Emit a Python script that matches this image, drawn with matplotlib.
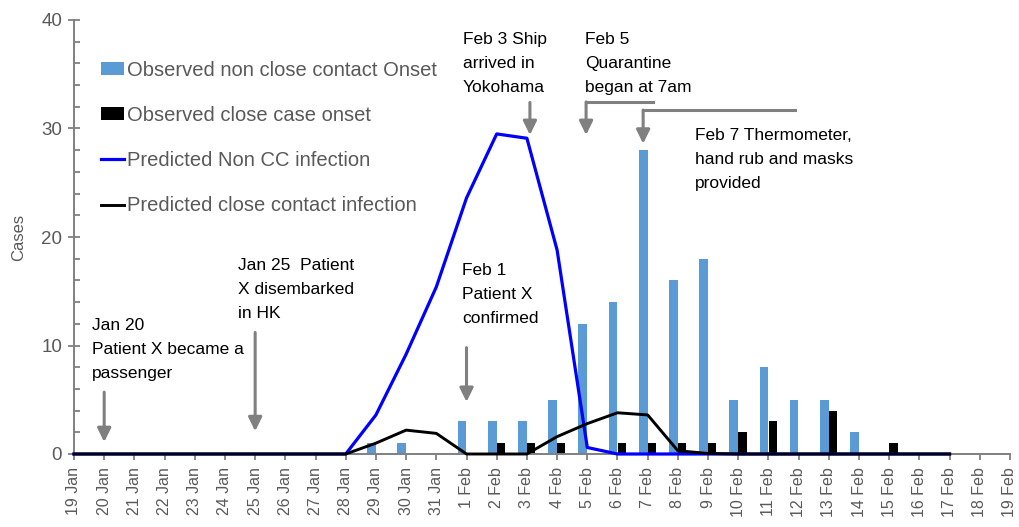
import matplotlib
matplotlib.use('Agg')
import matplotlib.pyplot as plt
from matplotlib.ticker import MultipleLocator

plt.rcParams['font.family'] = ['Liberation Sans', 'DejaVu Sans']

dates = ['19 Jan', '20 Jan', '21 Jan', '22 Jan', '23 Jan', '24 Jan', '25 Jan',
         '26 Jan', '27 Jan', '28 Jan', '29 Jan', '30 Jan', '31 Jan',
         '1 Feb', '2 Feb', '3 Feb', '4 Feb', '5 Feb', '6 Feb', '7 Feb', '8 Feb',
         '9 Feb', '10 Feb', '11 Feb', '12 Feb', '13 Feb', '14 Feb', '15 Feb',
         '16 Feb', '17 Feb', '18 Feb', '19 Feb']

# observed onsets (one value per date)
obs_non_cc = [0, 0, 0, 0, 0, 0, 0, 0, 0, 0, 1, 1, 0, 3, 3, 3, 5, 12, 14, 28,
              16, 18, 5, 8, 5, 5, 2, 0, 0, 0, 0, 0]
obs_cc = [0, 0, 0, 0, 0, 0, 0, 0, 0, 0, 0, 0, 0, 0, 1, 1, 1, 0, 1, 1,
          1, 1, 2, 3, 0, 4, 0, 1, 0, 0, 0, 0]

# predicted infections, 19 Jan - 17 Feb
pred_non_cc = [0, 0, 0, 0, 0, 0, 0, 0, 0, 0, 3.6, 9.2, 15.4, 23.6, 29.5, 29.1,
               18.8, 0.6, 0, 0, 0, 0, 0, 0, 0, 0, 0, 0, 0, 0]
pred_cc = [0, 0, 0, 0, 0, 0, 0, 0, 0, 0, 1.0, 2.2, 1.9, 0, 0, 0,
           1.6, 2.8, 3.8, 3.6, 0.3, 0.05, 0, 0, 0, 0, 0, 0, 0, 0]

grey = '#808080'
txt_grey = '#595959'

fig = plt.figure(figsize=(10.19, 5.27), dpi=100)
ax = fig.add_axes([74 / 1019, 73 / 527, 936 / 1019, 434 / 527])

x = list(range(len(dates)))
xp = list(range(len(pred_cc)))

b1 = ax.bar([i - 0.15 for i in x], obs_non_cc, width=0.29, color='#5B9BD5',
            label='Observed non close contact Onset', zorder=2)
b2 = ax.bar([i + 0.14 for i in x], obs_cc, width=0.27, color='black',
            label='Observed close case onset', zorder=2)
l1, = ax.plot(xp, pred_non_cc, color='#0000FF', lw=2.3,
              label='Predicted Non CC infection', zorder=3, clip_on=False)
l2, = ax.plot(xp, pred_cc, color='black', lw=2.1,
              label='Predicted close contact infection', zorder=4, clip_on=False)

ax.set_xlim(0, 31)
ax.set_ylim(0, 40)
ax.set_xticks(x)
ax.set_xticklabels(dates, rotation=90, fontsize=11.5, color=txt_grey)
ax.yaxis.set_major_locator(MultipleLocator(10))
ax.yaxis.set_minor_locator(MultipleLocator(2))
ax.tick_params(axis='y', which='major', direction='inout', length=9,
               width=1.3, color=grey, labelsize=13.5, labelcolor=txt_grey, pad=4)
ax.tick_params(axis='y', which='minor', direction='in', length=4.5,
               width=1.3, color=grey)
ax.tick_params(axis='x', direction='out', length=4.5, width=1.3,
               color=grey, pad=5)
for side in ['top', 'right']:
    ax.spines[side].set_visible(False)
for side in ['left', 'bottom']:
    ax.spines[side].set_color(grey)
    ax.spines[side].set_linewidth(1.4)
ax.set_ylabel('Cases', fontsize=12, color=txt_grey, labelpad=11)

leg = ax.legend([b1, b2, l1, l2], [b1.get_label(), b2.get_label(),
                                   l1.get_label(), l2.get_label()],
                loc='upper left', bbox_to_anchor=(0.029, 0.906), frameon=False,
                fontsize=14.5, labelspacing=1.3, handlelength=1.15,
                handleheight=0.6, handletextpad=0.12, borderpad=0,
                borderaxespad=0)
for t in leg.get_texts():
    t.set_color(txt_grey)

# annotations
notes = [
    (0.6, 12.5, 'Jan 20\nPatient X became a\npassenger'),
    (5.43, 18.1, 'Jan 25  Patient\nX disembarked\nin HK'),
    (12.85, 17.6, 'Feb 1\nPatient X\nconfirmed'),
    (12.88, 38.9, 'Feb 3 Ship\narrived in\nYokohama'),
    (16.93, 38.9, 'Feb 5\nQuarantine\nbegan at 7am'),
    (20.57, 30.0, 'Feb 7 Thermometer,\nhand rub and masks\nprovided'),
]
for nx, ny, s in notes:
    ax.text(nx, ny, s, ha='left', va='top', fontsize=12.5, linespacing=1.75,
            color='black', zorder=5)

arrows = [
    (1, 5.7, 1.1),
    (6, 11.2, 2.1),
    (13, 9.8, 4.8),
    (15.1, 32.4, 29.4),
    (16.96, 32.45, 29.4),
    (18.85, 31.7, 28.6),
]
aprops = dict(arrowstyle='-|>,head_width=0.27,head_length=0.55', color=grey,
              lw=2.2, shrinkA=0, shrinkB=0, mutation_scale=15)
for axx, y0, y1 in arrows:
    ax.annotate('', xy=(axx, y1), xytext=(axx, y0), arrowprops=aprops,
                annotation_clip=False, zorder=5)

# elbow connectors
ax.plot([19.18, 16.96], [32.45, 32.45], color=grey, lw=2.2, zorder=5)
ax.plot([23.88, 18.85], [31.7, 31.7], color=grey, lw=2.2, zorder=5)

fig.savefig('out.png', dpi=100)
